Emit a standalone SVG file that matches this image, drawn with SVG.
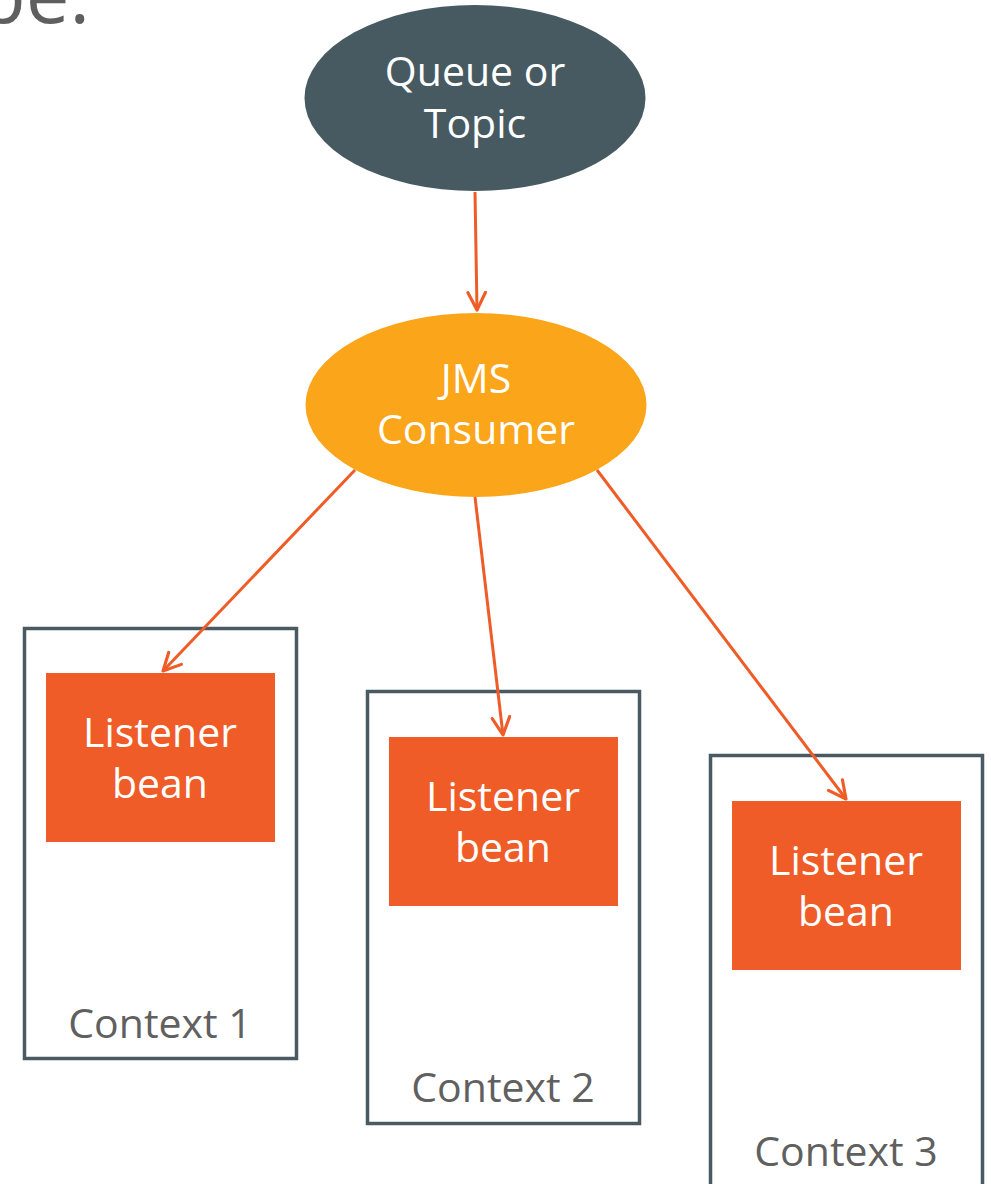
<svg xmlns="http://www.w3.org/2000/svg" width="991" height="1184" viewBox="0 0 991 1184">
<defs>
<style>
.lbl{font-family:"Open Sans","Noto Sans","Liberation Sans",sans-serif;font-size:41px;text-anchor:middle}
.w{fill:#ffffff}
.g{fill:#606060}
.ctx{fill:#ffffff;stroke:#4A5A62;stroke-width:3.5}
.bean{fill:#EF5C27}
.con{stroke:#EF5C27;stroke-width:3;fill:none;marker-end:url(#arr)}
</style>
<marker id="arr" viewBox="0 0 12 12" refX="11" refY="6" markerWidth="7" markerHeight="7" orient="auto" markerUnits="strokeWidth">
<path d="M1,1 L11,6 L1,11" fill="none" stroke="#EF5C27" stroke-width="1.8" stroke-linecap="round" stroke-linejoin="round"/>
</marker>
</defs>
<rect width="991" height="1184" fill="#ffffff"/>
<text x="-22" y="23" font-family="'Open Sans','Noto Sans',sans-serif" font-size="78" fill="#5f5f5f">be.</text>
<g id="queue">
<ellipse cx="475" cy="98" rx="170.5" ry="93" fill="#475A62"/>
<text class="lbl w" x="475" y="86">Queue or</text>
<text class="lbl w" x="475" y="138">Topic</text>
</g>
<g id="consumer">
<ellipse cx="476" cy="405" rx="170.5" ry="92" fill="#FBA51A"/>
<text class="lbl w" x="476" y="393">JMS</text>
<text class="lbl w" x="476" y="444">Consumer</text>
</g>
<g id="context1">
<rect class="ctx" x="24.5" y="628.5" width="272" height="430"/>
<text class="lbl g" x="160" y="1038">Context 1</text>
</g>
<g id="bean1">
<rect class="bean" x="46" y="673" width="229" height="169"/>
<text class="lbl w" x="160" y="747">Listener</text>
<text class="lbl w" x="160" y="798">bean</text>
</g>
<g id="context2">
<rect class="ctx" x="367.5" y="691.5" width="272" height="432"/>
<text class="lbl g" x="503" y="1102">Context 2</text>
</g>
<g id="bean2">
<rect class="bean" x="389" y="737" width="229" height="169"/>
<text class="lbl w" x="503" y="811">Listener</text>
<text class="lbl w" x="503" y="862">bean</text>
</g>
<g id="context3">
<rect class="ctx" x="710.5" y="755.5" width="272" height="440"/>
<text class="lbl g" x="846" y="1166">Context 3</text>
</g>
<g id="bean3">
<rect class="bean" x="732" y="801" width="229" height="169"/>
<text class="lbl w" x="846" y="875">Listener</text>
<text class="lbl w" x="846" y="926">bean</text>
</g>
<g id="connectors">
<path class="con" d="M475,192 L477,310"/>
<path class="con" d="M355,470 L163,671"/>
<path class="con" d="M475,497 L503,735"/>
<path class="con" d="M597,470 L846,799"/>
</g>
</svg>
